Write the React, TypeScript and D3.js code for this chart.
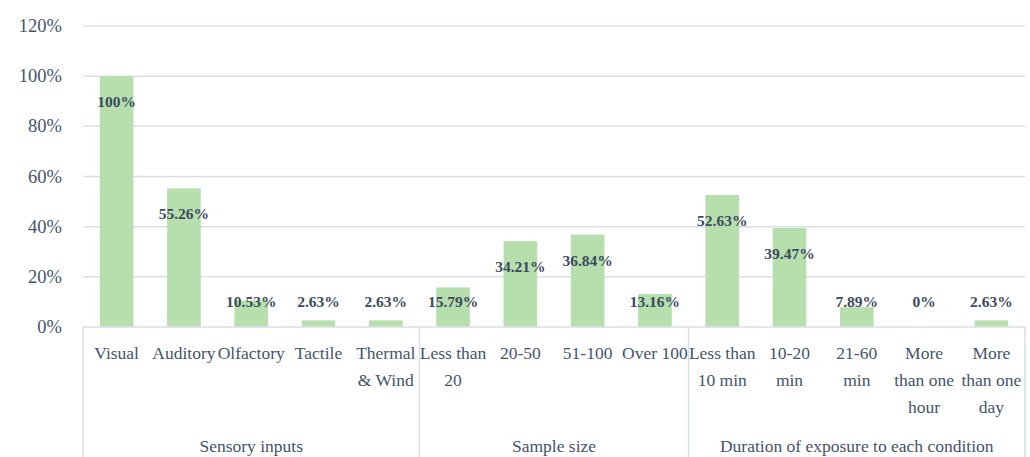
import React from 'react';
import * as d3 from 'd3';

// categories (line-broken the way the reference wraps them)
const categories = [
  'Visual', 'Auditory', 'Olfactory', 'Tactile', 'Thermal|& Wind',
  'Less than|20', '20-50', '51-100', 'Over 100',
  'Less than|10 min', '10-20|min', '21-60|min', 'More|than one|hour', 'More|than one|day',
];
const values = [100, 55.26, 10.53, 2.63, 2.63, 15.79, 34.21, 36.84, 13.16, 52.63, 39.47, 7.89, 0, 2.63];
const valueLabels = ['100%', '55.26%', '10.53%', '2.63%', '2.63%', '15.79%', '34.21%', '36.84%', '13.16%', '52.63%', '39.47%', '7.89%', '0%', '2.63%'];
const groups = ['Sensory inputs', 'Sample size', 'Duration of exposure to each condition'];
const groupSizes = [5, 4, 5];
const yTicks = [0, 20, 40, 60, 80, 100, 120];

const W = 1030;
const H = 457;
const left = 83;
const right = 1025;
const top = 26;
const bottom = 327;

const textColor = '#44546a';
const gridColor = '#d9dfea';
const barColor = '#b6dfad';
const font = '"Liberation Serif", "Times New Roman", serif';

export default function App() {
  const idx = categories.map((_, i) => String(i));
  const x = d3.scaleBand<string>().domain(idx).range([left, right]).paddingInner(0.5).paddingOuter(0.25);
  const y = d3.scaleLinear().domain([0, 120]).range([bottom, top]);
  const step = x.step();

  // group boundaries
  let acc = 0;
  const groupInfo = groupSizes.map((n, g) => {
    const start = left + acc * step;
    acc += n;
    const end = left + acc * step;
    return { name: groups[g], start, end };
  });

  const cx = (i: number) => (x(String(i)) as number) + x.bandwidth() / 2;

  return (
    <svg width={W} height={H} style={{ position: 'absolute', left: 0, top: 0, background: '#fff' }} fontFamily={font}>
      {yTicks.map(t => (
        <g key={t}>
          {t > 0 && <line x1={left} x2={right} y1={y(t)} y2={y(t)} stroke={gridColor} strokeWidth={1.5} />}
          <text x={62} y={y(t) + 6} textAnchor="end" fontSize={18.5} fill={textColor}>{t}%</text>
        </g>
      ))}
      {values.map((v, i) => (
        <rect key={i} x={x(String(i))} y={y(v)} width={x.bandwidth()} height={y(0) - y(v)} fill={barColor} />
      ))}
      {/* category axis */}
      <line x1={left} x2={right} y1={bottom} y2={bottom} stroke={gridColor} strokeWidth={1.5} />
      <line x1={left} x2={left} y1={bottom} y2={H} stroke={gridColor} strokeWidth={1.5} />
      {groupInfo.map((g, i) => (
        <g key={i}>
          <line x1={g.end} x2={g.end} y1={bottom} y2={H} stroke={gridColor} strokeWidth={1.5} />
          <text x={(g.start + g.end) / 2} y={452} textAnchor="middle" fontSize={17.5} fill={textColor}>{g.name}</text>
        </g>
      ))}
      {categories.map((c, i) => (
        <text key={i} x={cx(i)} y={359} textAnchor="middle" fontSize={17.5} fill={textColor}>
          {c.split('|').map((line, j) => (
            <tspan key={j} x={cx(i)} dy={j === 0 ? 0 : 27}>{line}</tspan>
          ))}
        </text>
      ))}
      {values.map((v, i) => (
        <text key={i} x={cx(i)} y={Math.min(y(v) + 26, y(0) - 25) + 5}
          textAnchor="middle" fontSize={15.5} fontWeight="bold" fill="#3b4a5e">{valueLabels[i]}</text>
      ))}
    </svg>
  );
}
